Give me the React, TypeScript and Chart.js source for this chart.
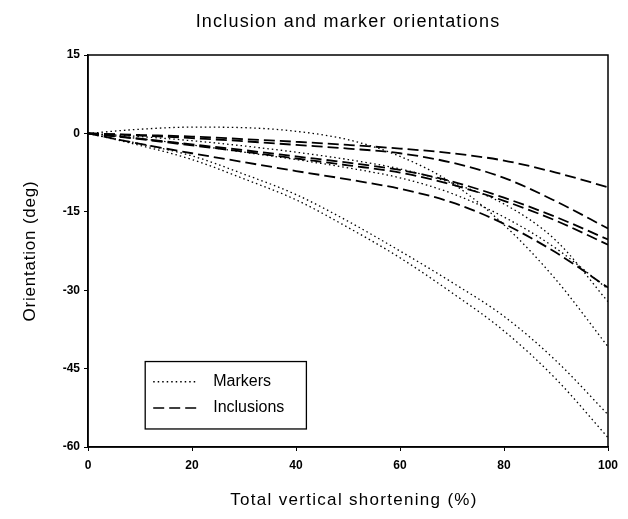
import React, { useEffect, useRef } from "react";
import { Chart, registerables } from "chart.js";

Chart.register(...registerables);

// ---- data ----
const shortening = [0, 10, 20, 30, 40, 50, 60, 70, 80, 90, 100];

// Markers (dotted)
const marker1 = [0, 0.8, 1.2, 1.1, 0.4, -1.2, -4.4, -9.5, -17.5, -28, -40.8];
const marker2 = [0, -0.6, -1.4, -2.4, -3.6, -5, -6.8, -9.5, -13.5, -20.5, -32.2];
const marker3 = [0, -1, -2.2, -3.6, -5, -6.6, -8.5, -11.5, -16, -22, -29.8];
const marker4 = [0, -2, -4.3, -7.8, -11.7, -16.8, -22.5, -28.5, -35, -43.5, -53.8];
const marker5 = [0, -2.3, -5, -8.7, -12.7, -18, -23.8, -30.5, -37.8, -47, -58.2];

// Inclusions (dashed)
const inclusion1 = [0, -0.3, -0.6, -1.1, -1.6, -2.2, -2.9, -3.8, -5.2, -7.5, -10.3];
const inclusion2 = [0, -0.4, -0.9, -1.5, -2.2, -2.9, -3.8, -5.6, -8.5, -13, -18.2];
const inclusion3 = [0, -1, -2.1, -3.2, -4.4, -5.6, -7, -9.2, -12.3, -16, -20.3];
const inclusion4 = [0, -1.1, -2.3, -3.5, -4.8, -6.1, -7.5, -9.8, -12.9, -16.7, -21.3];
const inclusion5 = [0, -2, -3.8, -5.5, -7.2, -8.8, -10.6, -13.2, -17.3, -22.8, -29.5];

const xTickValues = [0, 20, 40, 60, 80, 100];
const yTickValues = [15, 0, -15, -30, -45, -60];

const chartTitle = "Inclusion and marker orientations";
const xTitle = "Total vertical shortening (%)";
const yTitle = "Orientation (deg)";
const legendLabels = ["Markers", "Inclusions"];

const FONT = '"Liberation Sans", Arial, Helvetica, sans-serif';
const DOTTED = [1.5, 3];
const DASHED = [11, 5];

const toPoints = (ys: number[]) => shortening.map((x, i) => ({ x, y: ys[i] }));

const decorPlugin = {
  id: "decor",
  afterDraw(chart: any) {
    const { ctx, chartArea: a } = chart;
    ctx.save();
    // frame
    ctx.strokeStyle = "#000";
    ctx.lineWidth = 1.5;
    ctx.setLineDash([]);
    ctx.strokeRect(a.left, a.top, a.right - a.left, a.bottom - a.top);

    ctx.fillStyle = "#000";
    ctx.textBaseline = "middle";
    ctx.textAlign = "center";
    const cx = (a.left + a.right) / 2;
    const cy = (a.top + a.bottom) / 2;

    // chart title
    ctx.font = `18px ${FONT}`;
    (ctx as any).letterSpacing = "1.2px";
    ctx.fillText(chartTitle, cx, 22);

    // x-axis title
    ctx.font = `17px ${FONT}`;
    (ctx as any).letterSpacing = "1.3px";
    ctx.fillText(xTitle, cx + 6, 500);

    // y-axis title
    (ctx as any).letterSpacing = "0.8px";
    ctx.save();
    ctx.translate(30, cy);
    ctx.rotate(-Math.PI / 2);
    ctx.fillText(yTitle, 0, 0);
    ctx.restore();
    (ctx as any).letterSpacing = "0px";

    // legend box
    const w = a.right - a.left;
    const h = a.bottom - a.top;
    const lx = a.left + w * 0.11;
    const ly = a.top + h * 0.782;
    const lw = w * 0.31;
    const lh = h * 0.172;
    ctx.lineWidth = 1.3;
    ctx.strokeRect(lx, ly, lw, lh);
    ctx.font = `16px ${FONT}`;
    ctx.textAlign = "left";
    const rows = [ly + lh * 0.3, ly + lh * 0.69];
    const dashes = [DOTTED, DASHED];
    rows.forEach((ry, i) => {
      ctx.setLineDash(dashes[i]);
      ctx.lineWidth = 1.4;
      ctx.beginPath();
      ctx.moveTo(lx + 8, ry);
      ctx.lineTo(lx + 52, ry);
      ctx.stroke();
      ctx.setLineDash([]);
      ctx.fillText(legendLabels[i], lx + 68, ry);
    });
    ctx.restore();
  },
};

export default function App() {
  const canvasRef = useRef<HTMLCanvasElement | null>(null);

  useEffect(() => {
    document.body.style.margin = "0";
    const canvas = canvasRef.current;
    if (!canvas) return;

    const dotted = (data: number[]) => ({
      label: "Markers",
      data: toPoints(data),
      borderColor: "#000",
      borderWidth: 1.3,
      borderDash: DOTTED,
      pointRadius: 0,
      fill: false,
      cubicInterpolationMode: "monotone" as const,
    });
    const dashed = (data: number[]) => ({
      label: "Inclusions",
      data: toPoints(data),
      borderColor: "#000",
      borderWidth: 1.8,
      borderDash: DASHED,
      pointRadius: 0,
      fill: false,
      cubicInterpolationMode: "monotone" as const,
    });

    const chart = new Chart(canvas, {
      type: "line",
      data: {
        datasets: [
          dotted(marker1),
          dotted(marker2),
          dotted(marker3),
          dotted(marker4),
          dotted(marker5),
          dashed(inclusion1),
          dashed(inclusion2),
          dashed(inclusion3),
          dashed(inclusion4),
          dashed(inclusion5),
        ],
      },
      options: {
        animation: false,
        responsive: true,
        maintainAspectRatio: false,
        layout: { padding: { top: 55, right: 20, left: 0, bottom: 0 } },
        plugins: {
          legend: { display: false },
          title: { display: false },
          tooltip: { enabled: false },
        },
        scales: {
          x: {
            type: "linear",
            min: 0,
            max: 100,
            afterFit: (scale: any) => {
              scale.height = 72;
            },
            afterBuildTicks: (scale: any) => {
              scale.ticks = xTickValues.map((v) => ({ value: v }));
            },
            ticks: {
              color: "#000",
              font: { family: FONT, size: 12, weight: "bold" },
              padding: 7,
              maxRotation: 0,
            },
            grid: {
              drawOnChartArea: false,
              drawTicks: true,
              tickLength: 4,
              color: "#000",
            },
            border: { display: true, color: "#000", width: 1.5 },
          },
          y: {
            type: "linear",
            min: -60,
            max: 15,
            afterFit: (scale: any) => {
              scale.width = 88;
            },
            afterBuildTicks: (scale: any) => {
              scale.ticks = yTickValues.map((v) => ({ value: v }));
            },
            ticks: {
              color: "#000",
              font: { family: FONT, size: 12, weight: "bold" },
              padding: 4,
            },
            grid: {
              drawOnChartArea: false,
              drawTicks: true,
              tickLength: 4,
              color: "#000",
            },
            border: { display: true, color: "#000", width: 1.5 },
          },
        },
      },
      plugins: [decorPlugin],
    });

    return () => chart.destroy();
  }, []);

  return (
    <div style={{ position: "absolute", left: 0, top: 0, width: 628, height: 519 }}>
      <canvas ref={canvasRef} />
    </div>
  );
}
